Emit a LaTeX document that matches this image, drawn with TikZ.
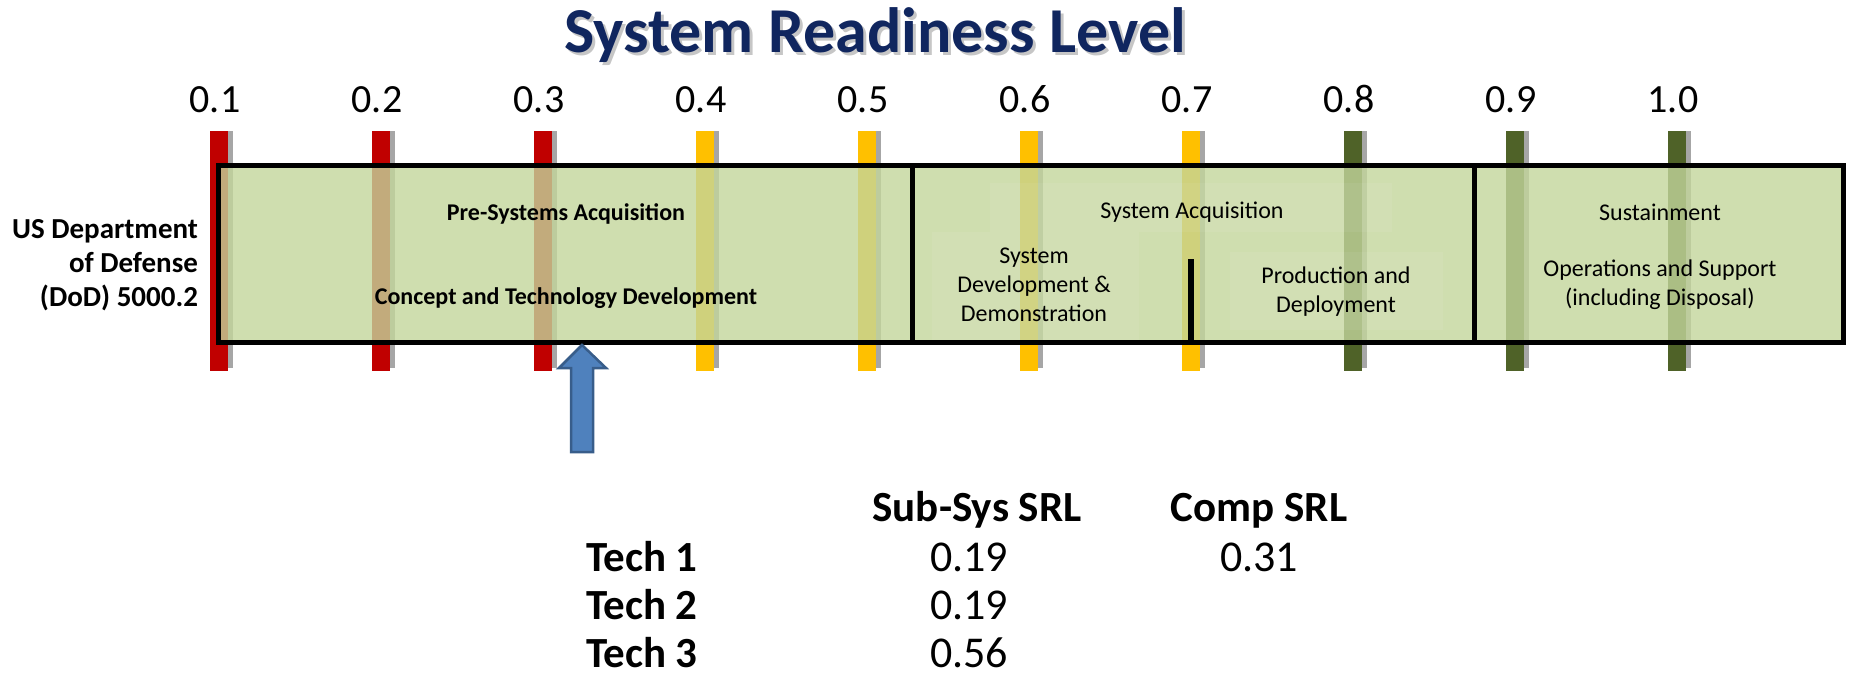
\documentclass[tikz,border=0pt]{standalone}
\usepackage{fontspec}
\setmainfont{Carlito}
\definecolor{srlred}{HTML}{C00000}
\definecolor{srlamber}{HTML}{FFC000}
\definecolor{srlolive}{HTML}{4F6228}
\definecolor{shadowgray}{HTML}{A6A6A6}
\definecolor{boxgreen}{HTML}{C3D69B}
\definecolor{titlenavy}{HTML}{10265F}
\definecolor{arrowblue}{HTML}{4F81BD}
\definecolor{arrowedge}{HTML}{385D8A}
\begin{document}
\begin{tikzpicture}[x=1pt,y=-1pt,
  every node/.style={inner sep=0pt,outer sep=0pt},
  titletext/.style={font=\fontsize{64}{70}\selectfont\bfseries,anchor=base},
  ticklabel/.style={font=\fontsize{40}{48}\selectfont,anchor=base},
  phasebox/.style={draw=black,line width=5pt,fill=boxgreen,fill opacity=0.8,anchor=north west},
  subpanel/.style={fill=white,fill opacity=0.06},
  phasebold/.style={font=\fontsize{24}{29}\selectfont\bfseries,align=center},
  phasetext/.style={font=\fontsize{24}{29}\selectfont,align=center},
  doslabel/.style={font=\fontsize{29}{34}\selectfont\bfseries,align=right,anchor=east},
  tablehead/.style={font=\fontsize{43}{50}\selectfont\bfseries,anchor=base},
  rowlabel/.style={font=\fontsize{43}{50}\selectfont\bfseries,anchor=base west,text depth=0pt},
  tablevalue/.style={font=\fontsize{44}{50}\selectfont,anchor=base,text depth=0pt},
  blockarrow/.style={fill=arrowblue,draw=arrowedge,line width=2.5pt,line join=miter},
  splitline/.style={draw=black,line width=5.5pt}
]
\useasboundingbox (0,0) rectangle (1850,679);

% title
\node[titletext,text=gray!45] (titleshadow) at (878,56) {System Readiness Level};
\node[titletext,text=titlenavy] (title) at (875,53) {System Readiness Level};

% readiness bars and tick labels
\foreach \i/\c/\t in {0/srlred/0.1,1/srlred/0.2,2/srlred/0.3,3/srlamber/0.4,4/srlamber/0.5,5/srlamber/0.6,6/srlamber/0.7,7/srlolive/0.8,8/srlolive/0.9,9/srlolive/1.0}{
  \pgfmathsetmacro{\xl}{210+162*\i}
  \fill[shadowgray] (\xl+18,131) rectangle (\xl+23,368);
  \fill[\c] (\xl,131) rectangle (\xl+18,371);
  \node[ticklabel] (tick\i) at (\xl+5,113) {\t};
}

% phase boxes
\node[phasebox,minimum width=694pt,minimum height=176pt] (pre) at (218,166) {};
\node[phasebox,minimum width=562pt,minimum height=176pt] (acq) at (912,166) {};
\node[phasebox,minimum width=369pt,minimum height=176pt] (sus) at (1474,166) {};

\fill[subpanel] (990,183) rectangle (1392,232);
\fill[subpanel] (932,232) rectangle (1139,340);
\fill[subpanel] (1230,252) rectangle (1443,330);

\coordinate (splittop) at (1191,259);
\draw[splitline] (splittop) -- (splittop |- acq.south);

% phase texts
\node[phasebold,anchor=base] (presys) at (566,221) {Pre-Systems Acquisition};
\node[phasebold,anchor=base] (ctd) at (566,304) {Concept and Technology Development};
\node[phasetext,anchor=base] (sysacq) at (1192,219) {System Acquisition};
\node[phasetext] (sdd) at (1034,285) {System\\Development \&\\Demonstration};
\node[phasetext] (pd) at (1336,292) {Production and\\Deployment};
\node[phasetext,anchor=base] (sust) at (1660,221) {Sustainment};
\node[phasetext] (ops) at (1660,285) {Operations and Support\\(including Disposal)};

% left label
\node[doslabel] (dod) at (198,265) {US Department\\of Defense\\(DoD) 5000.2};

% arrow
\filldraw[blockarrow] (582,345) -- (606,368) -- (593,368) -- (593,452) -- (571,452) -- (571,368) -- (559,368) -- cycle;

% table
\node[tablehead] (hsub) at (977,521) {Sub-Sys SRL};
\node[tablehead] (hcomp) at (1259,521) {Comp SRL};
\node[rowlabel] (tech1) at (586,571) {Tech 1};
\node[rowlabel] (tech2) at (586,619) {Tech 2};
\node[rowlabel] (tech3) at (586,667) {Tech 3};
\node[tablevalue] (v1) at (969,571) {0.19};
\node[tablevalue] (v2) at (969,619) {0.19};
\node[tablevalue] (v3) at (969,667) {0.56};
\node[tablevalue] (c1) at (1259,571) {0.31};
\end{tikzpicture}
\end{document}
